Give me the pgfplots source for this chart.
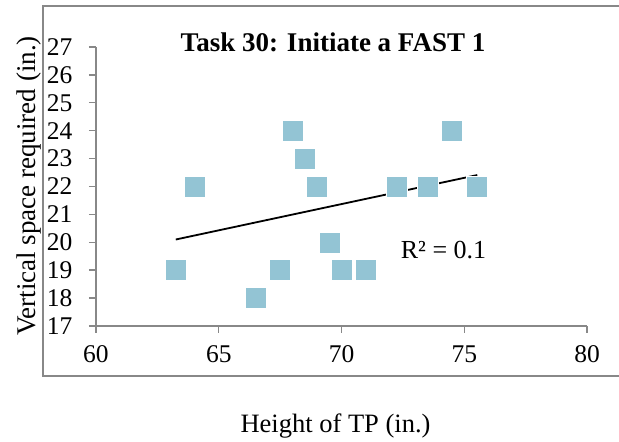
\documentclass[border=0pt]{standalone}
\usepackage{fontspec}
\setmainfont{Liberation Serif}
\usepackage{pgfplots}
\pgfplotsset{compat=1.18}
\definecolor{mk}{RGB}{147,196,212}
\definecolor{ax}{RGB}{136,136,136}
\begin{document}
\begin{tikzpicture}[x=1pt,y=1pt]
\useasboundingbox (0,0) rectangle (619,442);
\draw[ax, line width=1.5pt] (640,436) -- (43,436) -- (43,66) -- (640,66);
\begin{axis}[
  at={(96pt,116pt)}, anchor=south west,
  scale only axis, width=491pt, height=279pt,
  xmin=60, xmax=80, ymin=17, ymax=27,
  xtick={60,65,...,80}, ytick={17,18,...,27},
  axis x line=bottom, axis y line=left,
  axis line style={ax, line width=1.4pt, -},
  tick style={ax, line width=1.4pt},
  tick align=outside, major tick length=7pt,
  /pgf/number format/assume math mode=true,
  ticklabel style={font=\fontsize{25.5}{28}\selectfont},
  yticklabel style={xshift=-13pt},
  xticklabel style={yshift=-9pt},
  clip=false,
]
\addplot[only marks, mark=square*, mark size=10.5pt, mark options={fill=mk, draw=white, line width=0.4pt}] coordinates {
(63.26,19) (64.03,22) (66.5,18) (67.5,19) (68.0,24) (68.5,23) (69.0,22)
(69.5,20) (70.0,19) (71.0,19) (72.26,22) (73.5,22) (74.5,24) (75.5,22)
};
\addplot[black, line width=1.8pt] coordinates {(63.25,20.10) (75.53,22.41)};
\end{axis}
\node[anchor=base, font=\fontsize{27}{30}\selectfont\bfseries] at (333,390.3) {Task 30: Initiate a FAST 1};
\node[anchor=base, font=\fontsize{26.5}{30}\selectfont] at (335.5,9) {Height of TP (in.)};
\node[anchor=base, rotate=90, font=\fontsize{27}{30}\selectfont] at (35,256) {Vertical space required (in.)};
\node[anchor=base west, font=\fontsize{26}{30}\selectfont, inner sep=0pt] at (400.7,183) {R² = 0.1};
\end{tikzpicture}
\end{document}
